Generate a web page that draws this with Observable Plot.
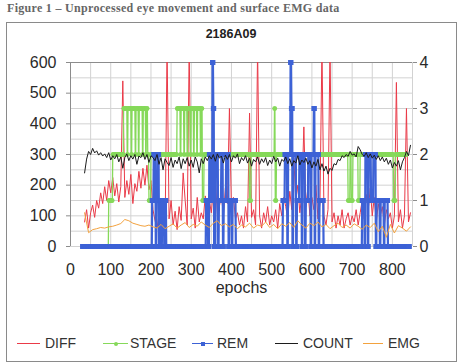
<!DOCTYPE html>
<html><head><meta charset="utf-8">
<script src="https://cdn.jsdelivr.net/npm/d3@7"></script>
<script src="https://cdn.jsdelivr.net/npm/@observablehq/plot@0.6"></script>
<style>
body{margin:0;background:#fff;width:462px;height:364px;position:relative;overflow:hidden;font-family:"Liberation Sans",Arial,sans-serif;}
#fig{position:absolute;left:7px;top:1px;font:bold 12px "Liberation Serif","Times New Roman",serif;letter-spacing:0.3px;color:#666;white-space:nowrap;}
#frame{position:absolute;left:6px;top:22px;width:449px;height:338px;border:1px solid #8a8a8a;}
#ctitle{position:absolute;left:0;width:462px;top:27px;text-align:center;font:bold 12.5px "Liberation Sans",Arial,sans-serif;color:#222;}
#chart{position:absolute;left:0;top:40px;}
.lt{position:absolute;top:335px;font:14px "Liberation Sans",Arial,sans-serif;color:#333;line-height:16px;}
.ls{position:absolute;top:343px;height:1px;}
.lm{position:absolute;}
</style></head>
<body>
<div id="fig">Figure 1 – Unprocessed eye movement and surface EMG data</div>
<div id="frame"></div>
<div id="ctitle">2186A09</div>
<div id="chart"></div>
<div id="legend"></div>
<script>
// ---- data ----
const seriesNames = ["DIFF", "STAGE", "REM", "COUNT", "EMG"];
const seriesColors = ["#ea3a48", "#86d95a", "#3d62d6", "#1c1c1c", "#f3a23e"];

// DIFF (left axis), one value every 5 epochs from epoch 35
const diffStart = 35, diffStep = 5;
const diffValues = [
  80,120,60,110,135,95,150,125,175,140,      // 35-80
  195,150,215,175,225,165,205,145,195,540,   // 85-130
  160,215,170,235,140,205,180,245,190,255,   // 135-180
  200,265,185,215,120,85,60,105,50,80,       // 185-230
  40,650,90,150,70,115,55,130,85,240,        // 235-280
  150,70,650,90,125,60,160,80,110,90,        // 285-330
  165,120,150,110,185,95,200,130,170,100,    // 335-380
  190,140,450,120,160,90,110,70,100,60,      // 385-430
  130,80,435,95,120,70,650,100,60,110,       // 435-480
  80,130,70,100,80,120,60,140,100,160,       // 485-530
  130,90,180,120,290,150,200,110,170,390,    // 535-580
  130,190,100,160,120,200,90,140,650,100,    // 585-630
  70,120,650,80,110,60,100,70,120,60,        // 635-680
  90,110,70,100,80,120,70,110,150,90,        // 685-730
  170,120,190,100,160,80,140,100,130,70,     // 735-780
  120,90,110,60,100,535,80,120,60,100,       // 785-830
  450,80,110                                 // 835-845
];

// COUNT (left axis), one value every 5 epochs from epoch 35
const countStart = 35, countStep = 5;
const countValues = [
  240,285,310,300,320,305,312,298,306,295,
  302,290,306,282,296,286,300,276,292,255,
  290,302,280,296,285,300,268,295,290,306,
  284,300,274,296,290,280,300,268,290,250,
  286,274,264,290,258,282,270,292,254,286,
  270,290,262,282,258,292,276,240,286,270,
  292,280,296,285,300,278,302,288,295,272,
  298,284,300,276,296,288,302,270,290,280,
  296,272,288,262,284,276,292,268,286,274,
  290,264,282,270,294,276,288,262,284,278,
  292,270,286,262,280,272,296,266,282,274,
  288,268,280,256,276,262,284,250,270,246,
  262,236,255,248,270,266,284,280,296,290,
  300,294,310,298,302,292,326,315,300,294,
  306,290,302,288,298,284,296,280,292,276,
  288,268,282,256,274,262,280,250,276,290,
  310,296,330
];

// EMG (left axis), one value every 10 epochs from epoch 35
const emgStart = 35, emgStep = 10;
const emgValues = [
  110,45,55,58,62,60,64,66,70,75,
  88,84,76,72,68,66,70,64,60,72,
  58,66,74,60,70,78,62,72,66,80,
  70,62,76,84,68,74,64,72,58,70,
  64,76,60,70,66,80,62,72,58,74,
  66,78,62,84,70,60,76,68,80,64,
  72,58,68,76,62,70,60,74,66,56,
  70,62,76,48,66,30,72,44,68,60,
  50,64
];

// STAGE (right axis): runs [first epoch, last epoch, value]
const stageRuns = [
  [35,94,0],[95,104,1],[105,131,2],
  [132,140,3],[141,142,2],[143,150,3],[151,152,2],[153,160,3],[161,162,2],[163,168,3],
  [169,170,2],[171,178,3],[179,180,2],[181,186,3],[187,188,2],[189,191,3],[192,194,2],
  [195,199,1],[200,264,2],
  [265,272,3],[273,274,2],[275,281,3],[282,283,2],[284,289,3],[290,291,2],[292,297,3],
  [298,299,2],[300,305,3],[306,307,2],[308,313,3],[314,315,2],[316,322,3],[323,324,2],
  [325,327,3],[328,331,1],[332,444,2],[445,448,1],[449,506,2],[507,508,3],[509,511,1],
  [512,689,2],[690,694,1],[695,697,2],[698,701,1],[702,714,2],[715,719,1],[720,802,2],
  [803,807,1],[808,835,2]
];

// REM (right axis): runs [first epoch, last epoch, value]
const remRuns = [
  [30,202,0],
  [203,206,1],[207,211,2],[212,213,0],[214,216,1],[217,219,2],[220,221,0],[222,225,1],
  [226,227,0],[228,232,1],[233,234,0],[235,237,1],
  [238,336,0],
  [337,341,1],[342,344,0],[345,349,2],[350,352,1],[353,354,4],[355,356,3],[357,360,0],
  [361,366,2],[367,368,0],[369,374,1],[375,378,2],[379,380,0],[381,386,1],[387,392,2],
  [393,394,0],[395,400,1],[401,402,0],[403,410,1],
  [411,527,0],
  [528,532,1],[533,538,2],[539,540,0],[541,546,2],[547,548,4],[549,551,3],[552,553,0],
  [554,560,2],[561,562,0],[563,568,1],[569,574,2],[575,576,0],[577,582,2],[583,584,0],
  [585,590,1],[591,596,2],[597,598,0],[599,604,2],[605,606,3],[607,608,0],[609,616,2],
  [617,618,0],[619,628,1],
  [629,724,0],
  [725,730,1],[731,732,0],[733,738,2],[739,740,0],[741,746,2],[747,752,1],[753,758,2],
  [759,760,0],[761,768,1],[769,770,0],[771,778,1],[779,780,0],[781,788,1],
  [789,842,0]
];

const leftTicks = [0,100,200,300,400,500,600];
const rightTicks = [0,1,2,3,4];
const xTicks = [0,100,200,300,400,500,600,700,800];

// ---- build tables ----
const RIGHT_TO_LEFT = 600 / 4;
const regular = (start, step, vals) => vals.map((v, i) => ({x: start + i * step, y: v}));
const fromRuns = runs => runs.flatMap(([a, b, v]) => d3.range(a, b + 1).map(e => ({x: e, y: v * RIGHT_TO_LEFT})));
const diff = regular(diffStart, diffStep, diffValues);
const count = regular(countStart, countStep, countValues);
const emg = regular(emgStart, emgStep, emgValues);
const stage = fromRuns(stageRuns);
const rem = fromRuns(remRuns);

const [cDiff, cStage, cRem, cCount, cEmg] = seriesColors;

const chart = Plot.plot({
  width: 462, height: 270,
  marginLeft: 70, marginRight: 50, marginTop: 22, marginBottom: 64,
  x: {domain: [0, 850]},
  y: {domain: [0, 600]},
  style: {fontSize: "16px", fontFamily: "'Liberation Sans', Arial, sans-serif", color: "#2a2a2a", background: "transparent"},
  marks: [
    Plot.gridY(d3.range(0, 601, 50), {stroke: "#d2d2d2", strokeOpacity: 1}),
    Plot.gridX(d3.range(0, 851, 50), {stroke: "#d2d2d2", strokeOpacity: 1}),
    Plot.ruleY([600], {stroke: "#8c8c8c"}),
    Plot.ruleX([0], {stroke: "#8c8c8c"}),
    Plot.axisY({ticks: leftTicks, tickSize: 4, tickPadding: 10, label: null, stroke: "#8c8c8c"}),
    Plot.axisY({anchor: "right", ticks: rightTicks.map(t => t * RIGHT_TO_LEFT), tickFormat: d => d / RIGHT_TO_LEFT, tickSize: 4, tickPadding: 3, label: null, stroke: "#8c8c8c"}),
    Plot.axisX({ticks: xTicks, tickSize: 0, tickPadding: 17, label: null}),
    Plot.line(diff, {x: "x", y: "y", stroke: cDiff, strokeWidth: 1, clip: true}),
    Plot.line(stage, {x: "x", y: "y", stroke: cStage, strokeWidth: 1.3}),
    Plot.dot(stage, {x: "x", y: "y", fill: cStage, r: 2.2}),
    Plot.line(rem, {x: "x", y: "y", stroke: cRem, strokeWidth: 2.2}),
    Plot.dot(rem, {x: "x", y: "y", fill: cRem, symbol: "square", r: 2.8}),
    Plot.line(count, {x: "x", y: "y", stroke: cCount, strokeWidth: 1}),
    Plot.line(emg, {x: "x", y: "y", stroke: cEmg, strokeWidth: 1}),
    Plot.text(["epochs"], {frameAnchor: "bottom", dy: 46, fontSize: 16, fill: "#2a2a2a"})
  ]
});
document.getElementById("chart").appendChild(chart);

// ---- legend ----
const legendPos = [
  {line: [17, 23], text: 45, marker: null},
  {line: [103, 25], text: 130, marker: "circle"},
  {line: [192, 21], text: 217, marker: "square"},
  {line: [275, 23], text: 303, marker: null},
  {line: [363, 20], text: 388, marker: null}
];
const lg = document.getElementById("legend");
seriesNames.forEach((name, i) => {
  const p = legendPos[i];
  const s = document.createElement("div");
  s.className = "ls";
  s.style.left = p.line[0] + "px"; s.style.width = p.line[1] + "px"; s.style.background = seriesColors[i];
  lg.appendChild(s);
  if (p.marker) {
    const m = document.createElement("div");
    m.className = "lm";
    m.style.width = "4px"; m.style.height = "4px"; m.style.background = seriesColors[i];
    m.style.left = (p.line[0] + p.line[1] / 2 - 2) + "px"; m.style.top = "341.5px";
    if (p.marker === "circle") m.style.borderRadius = "2px";
    lg.appendChild(m);
  }
  const t = document.createElement("div");
  t.className = "lt"; t.style.left = p.text + "px"; t.textContent = name;
  lg.appendChild(t);
});
</script>
</body></html>
